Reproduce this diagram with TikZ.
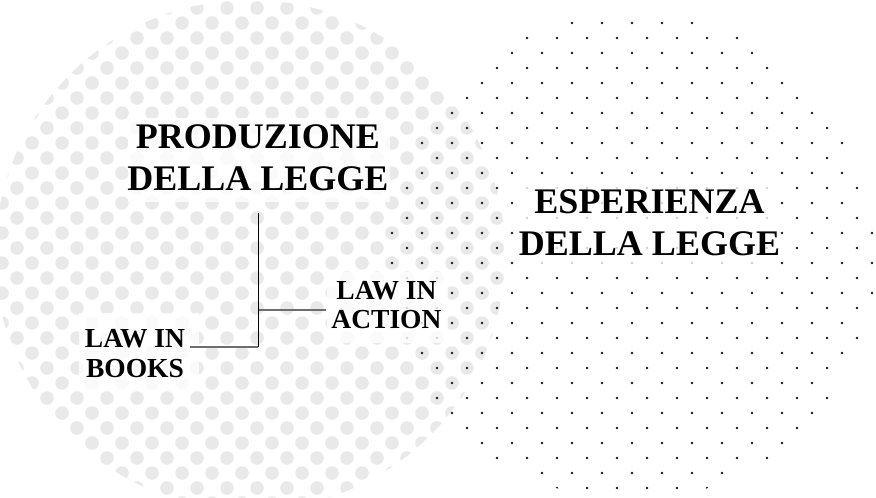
\documentclass[tikz,border=0pt]{standalone}
\usepackage{fontspec}
\setmainfont{Liberation Serif}
\definecolor{dotgrey}{RGB}{233,233,233}
\definecolor{dotblack}{RGB}{25,25,25}
\definecolor{linegrey}{RGB}{110,110,110}
\tikzset{
  greydot/.style={fill=dotgrey},
  blackdot/.style={fill=dotblack},
  veil/.style={fill=white,fill opacity=0.8},
  bigtext/.style={font=\fontsize{36}{42}\selectfont\bfseries,align=center,inner xsep=5pt,inner ysep=4pt},
  smalltext/.style={font=\fontsize{27.5}{29.5}\selectfont\bfseries,align=center,inner xsep=5pt,inner ysep=3pt},
  stemline/.style={draw=black,line width=1pt},
  branchline/.style={draw=linegrey,line width=1.6pt}
}
\begin{document}
\begin{tikzpicture}[x=1pt,y=-1pt]
\useasboundingbox (0,0) rectangle (876,498);
\fill[white] (0,0) rectangle (876,498);
% left halftone disc (large grey dots)
\begin{scope}
  \clip (250,255) circle (255pt);
  \foreach \j in {0,...,33} {
    \pgfmathsetmacro\yy{8+15*\j}
    \pgfmathsetmacro\xo{mod(\j,2)==0 ? 17 : 2}
    \foreach \i in {0,...,18} {
      \fill[greydot] (\xo+30*\i,\yy) circle (6.8pt);
    }
  }
\end{scope}
% right halftone disc (small black dots)
\begin{scope}
  \clip (632,256) circle (244pt);
  \foreach \j in {0,...,33} {
    \pgfmathsetmacro\yy{8+15*\j}
    \pgfmathsetmacro\xo{mod(\j,2)==0 ? 17 : 2}
    \foreach \i in {12,...,29} {
      \fill[blackdot] (\xo+30*\i,\yy) circle (1.4pt);
    }
  }
\end{scope}
% translucent backgrounds behind the labels
\fill[veil] (128,118) rectangle (390,202);
\fill[veil] (515,182) rectangle (777,268);
\fill[veil] (79,313) rectangle (199,390);
\fill[veil] (327,272) rectangle (448,343);
% labels
\node[bigtext] (prod) at (258,157.5) {PRODUZIONE\\DELLA LEGGE};
\node[bigtext] (esp) at (649.5,223) {ESPERIENZA\\DELLA LEGGE};
\node[smalltext] (books) at (135,353.5) {LAW IN\\BOOKS};
\node[smalltext] (action) at (386.5,305) {LAW IN\\ACTION};
% connectors
\coordinate (stem) at (258,213);
\coordinate (knee) at (258,347);
\coordinate (tee) at (258,310);
\draw[branchline] (knee) -- (books.east |- knee);
\draw[branchline] (tee) -- (action.west |- tee);
\draw[stemline] (stem) -- (knee);
\end{tikzpicture}
\end{document}
